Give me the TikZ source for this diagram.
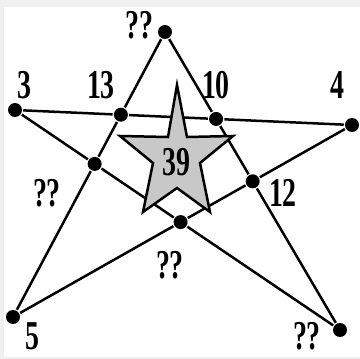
\documentclass[tikz,border=0pt]{standalone}
\usepackage{fontspec}
\setmainfont{Liberation Serif}
\usepackage{tikz}
\usetikzlibrary{calc}

\definecolor{framegray}{RGB}{240,240,240}
\definecolor{stargray}{RGB}{200,200,200}

\begin{document}
\begin{tikzpicture}[
  x=1pt, y=-1pt,
  line width=2.5pt,
  dot/.style = {circle, fill, inner sep=0pt, minimum size=14pt},
  lbl/.style = {font=\fontsize{41}{41}\selectfont\bfseries, inner sep=0pt, xscale=0.68},
]
%--- frame ---
  \fill[framegray] (0,0) rectangle (360,359);
  \fill[white] (4,7) rectangle (360,357);
  \useasboundingbox (0,0) rectangle (360,359);

%--- outer points ---
  \node[dot] (top)   at (165,32)  {};
  \node[dot] (left)  at (15,110)  {};
  \node[dot] (right) at (352,125) {};
  \node[dot] (bleft) at (13,317)  {};
  \node[dot] (brght) at (340,330) {};

%--- inner crossings ---
  \node[dot] (xul) at (intersection of 165,32--13,317 and 15,110--352,125)   {};
  \node[dot] (xur) at (intersection of 165,32--340,330 and 15,110--352,125)  {};
  \node[dot] (xml) at (intersection of 165,32--13,317 and 15,110--340,330)   {};
  \node[dot] (xmr) at (intersection of 165,32--340,330 and 13,317--352,125)  {};
  \node[dot] (xbm) at (intersection of 15,110--340,330 and 13,317--352,125)  {};

%--- lines of the big star ---
  \draw (left)  -- (xul) -- (xur) -- (right);
  \draw (top)   -- (xul) -- (xml) -- (bleft);
  \draw (top)   -- (xur) -- (xmr) -- (brght);
  \draw (left)  -- (xml) -- (xbm) -- (brght);
  \draw (bleft) -- (xbm) -- (xmr) -- (right);

%--- small grey star ---
  \draw[fill=stargray, line join=miter]
    (177,85) -- (187,137) -- (233,136) -- (200,163) -- (210,212)
    -- (177,188) -- (143,212) -- (153,163) -- (120,136) -- (168,137) -- cycle;
  \node[lbl] (mid) at (176,162) {39};

%--- labels ---
  \node[lbl] (ltop)  at (139,25)  {??};
  \node[lbl] (lleft) at (24,85)   {3};
  \node[lbl] (lul)   at (101,85)  {13};
  \node[lbl] (lur)   at (216,85)  {10};
  \node[lbl] (lrght) at (337,85)  {4};
  \node[lbl] (lml)   at (47,193)  {??};
  \node[lbl] (lmr)   at (283,193) {12};
  \node[lbl] (lbm)   at (170,265) {??};
  \node[lbl] (lbl5)  at (32,336)  {5};
  \node[lbl] (lbr)   at (307,336) {??};
\end{tikzpicture}
\end{document}
